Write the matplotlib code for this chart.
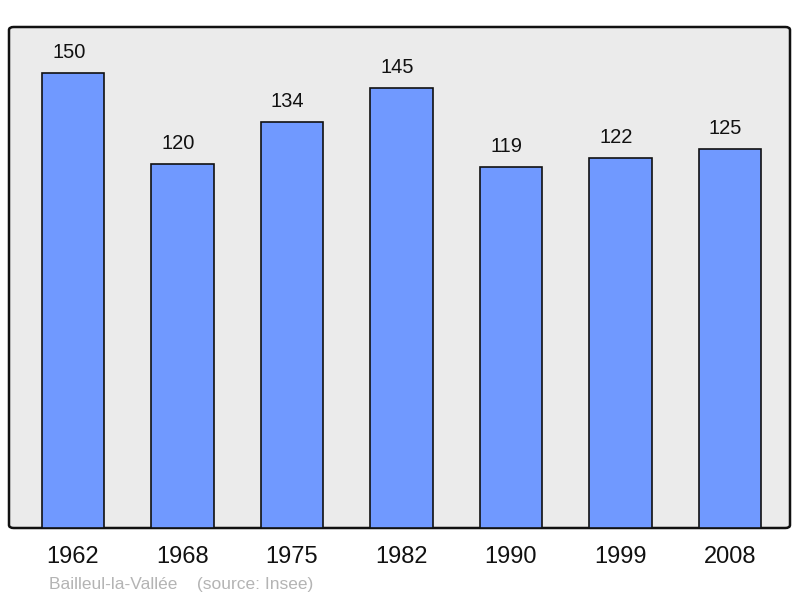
import matplotlib.pyplot as plt
from matplotlib.patches import FancyBboxPatch

plt.rcParams["font.family"] = ["Liberation Sans", "DejaVu Sans"]

years = ["1962", "1968", "1975", "1982", "1990", "1999", "2008"]
population = [150, 120, 134, 145, 119, 122, 125]

BAR = "#7099ff"
BG = "#ebebeb"

fig = plt.figure(figsize=(8, 5.98), dpi=100)
ax = fig.add_axes([9 / 800, 70 / 598, 781 / 800, 501 / 598])
ax.set_facecolor("none")

# rounded frame behind the bars
frame = FancyBboxPatch((0, 0), 1, 1, boxstyle="round,pad=0,rounding_size=0.006",
                       transform=ax.transAxes, facecolor=BG, edgecolor="#111111",
                       linewidth=1.8, zorder=0, clip_on=False)
ax.add_patch(frame)

x = range(len(years))
ax.bar(x, population, width=0.57, color=BAR, edgecolor="#111111",
       linewidth=1.2, zorder=2)

# value labels sit a little left of the bar centre in the original
for i, v in zip(x, population):
    ax.annotate(str(v), (i, v), textcoords="offset points", xytext=(-3, 8),
                ha="center", va="bottom", fontsize=14.5, color="#111111")

ax.set_xlim(-0.585, 6.55)
ax.set_ylim(0, 165.2)
ax.set_xticks(list(x))
ax.set_xticklabels(years, fontsize=17, color="#111111")
ax.tick_params(axis="x", length=0, pad=13)
ax.set_yticks([])
for s in ax.spines.values():
    s.set_visible(False)

fig.text(49 / 800, 1 - 584 / 598, "Bailleul-la-Vallée    (source: Insee)",
         fontsize=12.5, color="#b4b4b4", ha="left", va="center")

fig.savefig("out.png", dpi=100)
